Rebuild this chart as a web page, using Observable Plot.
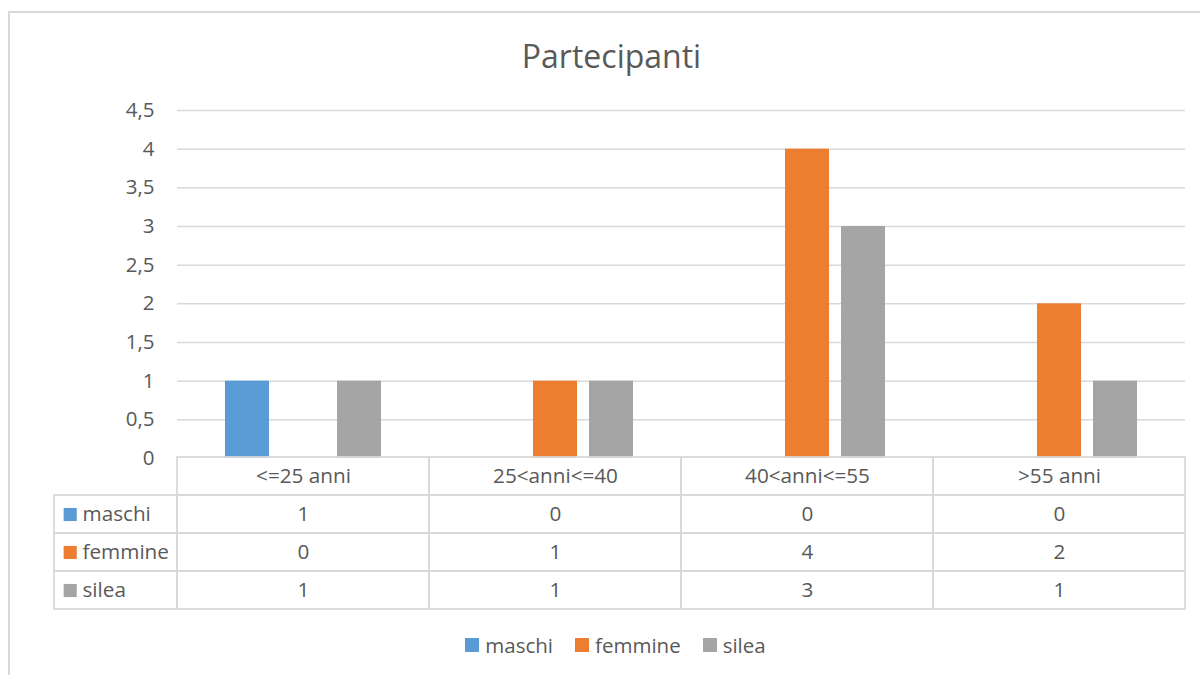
<!DOCTYPE html>
<html>
<head>
<meta charset="utf-8">
<script src="https://cdn.jsdelivr.net/npm/d3@7"></script>
<script src="https://cdn.jsdelivr.net/npm/@observablehq/plot@0.6"></script>
<style>
  html, body { margin: 0; padding: 0; background: #fff; }
  #root { position: relative; width: 1200px; height: 675px; overflow: hidden; background: #fff; font-family: 'Open Sans', sans-serif; color: #595959; }
  #frame { position: absolute; left: 8px; top: 11px; width: 1400px; height: 900px; border-left: 2px solid #dadada; border-top: 2px solid #dadada; }
  #title { position: absolute; left: 8px; width: 1207px; top: 40px; text-align: center; font-size: 32px; line-height: 32px; color: #595959; }
  .abs { position: absolute; }
  #legend { position: absolute; left: 23px; width: 1207px; top: 628px; }
  #legend .lg-swatches { justify-content: center; margin: 0 !important; font-family: 'Open Sans', sans-serif !important; font-size: 20.5px !important; color: #595959 !important; }
  #legend .lg-swatch { margin-right: 22px !important; }
  #legend .lg-swatch > svg { margin-right: 6px !important; }
</style>
</head>
<body>
<div id="root">
  <div id="frame"></div>
  <div id="title">Partecipanti</div>
</div>
<script>
const categories = ["<=25 anni", "25<anni<=40", "40<anni<=55", ">55 anni"];
const series = ["maschi", "femmine", "silea"];
const maschi = [1, 0, 0, 0];
const femmine = [0, 1, 4, 2];
const silea = [1, 1, 3, 1];
const yTicks = [0, 0.5, 1, 1.5, 2, 2.5, 3, 3.5, 4, 4.5];
const colors = ["#5B9BD5", "#ED7D31", "#A5A5A5"];

const seriesValues = [maschi, femmine, silea];
const data = categories.flatMap((c, i) => series.map((s, j) => ({cat: c, series: s, value: seriesValues[j][i]})));
const rows = ["head", ...series];
const cellsData = rows.flatMap(r => categories.map(c => ({row: r, cat: c})));

const font = "'Open Sans', sans-serif";
const grid = "#d9d9d9";
const root = document.getElementById("root");

// Bars
const bars = Plot.plot({
  width: 1200, height: 468,
  marginLeft: 177, marginRight: 15, marginTop: 110, marginBottom: 10,
  style: {fontFamily: font, fontSize: "20.5px", color: "#595959", background: "transparent", overflow: "visible"},
  fx: {domain: categories, padding: 0, axis: null, label: null},
  x: {domain: series, paddingInner: 12 / 56, paddingOuter: 48 / 56, axis: null},
  y: {domain: [0, 4.5], ticks: yTicks, tickSize: 0, tickPadding: 23, tickFormat: d => String(d).replace(".", ","), label: null},
  color: {domain: series, range: colors},
  marks: [
    Plot.ruleY(yTicks.filter(d => d > 0), {stroke: grid, strokeWidth: 1.5}),
    Plot.barY(data, {fx: "cat", x: "series", y: "value", fill: "series"})
  ]
});
bars.classList.add("abs");
bars.style.left = "0px"; bars.style.top = "0px";
root.appendChild(bars);

// Data table: values
const table = Plot.plot({
  width: 1024, height: 154,
  marginLeft: 1, marginRight: 15, marginTop: 1, marginBottom: 1,
  style: {fontFamily: font, fontSize: "20.7px", color: "#595959", background: "transparent", overflow: "visible"},
  x: {domain: categories, padding: 0, axis: null},
  y: {domain: rows, padding: 0, axis: null},
  marks: [
    Plot.cell(cellsData, {x: "cat", y: "row", fill: "none", stroke: grid, strokeWidth: 1.8, inset: 0}),
    Plot.text(categories, {x: d => d, y: () => "head", text: d => d, fill: "#595959"}),
    Plot.text(data, {x: "cat", y: "series", text: d => String(d.value), fill: "#595959"})
  ]
});
table.classList.add("abs");
table.style.left = "176px"; table.style.top = "456px";
root.appendChild(table);

// Data table: series labels column
const labels = Plot.plot({
  width: 178, height: 154,
  marginLeft: 54, marginRight: 1, marginTop: 1, marginBottom: 1,
  style: {fontFamily: font, fontSize: "20.7px", color: "#595959", background: "transparent", overflow: "visible"},
  x: {domain: ["label"], padding: 0, axis: null},
  y: {domain: rows, padding: 0, axis: null},
  color: {domain: series, range: colors},
  marks: [
    Plot.cell(series, {x: () => "label", y: d => d, fill: "none", stroke: grid, strokeWidth: 1.8, inset: 0}),
    Plot.dot(series, {y: d => d, frameAnchor: "left", dx: 15.7, symbol: "square", r: 7.4, fill: d => d, stroke: "none"}),
    Plot.text(series, {y: d => d, frameAnchor: "left", dx: 28, textAnchor: "start", text: d => d, fill: "#595959"})
  ]
});
labels.classList.add("abs");
labels.style.left = "0px"; labels.style.top = "456px";
root.appendChild(labels);

// Legend
const legWrap = document.createElement("div");
legWrap.id = "legend";
const leg = Plot.legend({
  color: {type: "ordinal", domain: series, range: colors},
  swatchSize: 14,
  className: "lg",
  style: {fontFamily: font, fontSize: "20.5px", color: "#595959"}
});
legWrap.appendChild(leg);
root.appendChild(legWrap);
</script>
</body>
</html>
